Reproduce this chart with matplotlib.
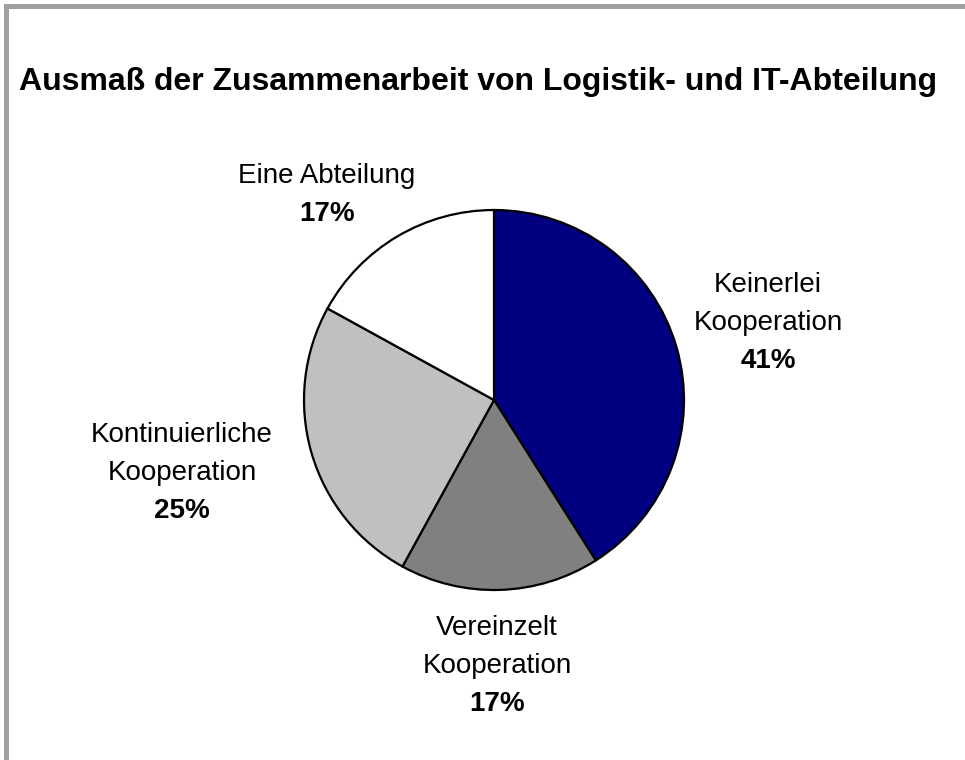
import matplotlib.pyplot as plt
from matplotlib.patches import Rectangle

# data
categories = ["Keinerlei\nKooperation", "Vereinzelt\nKooperation",
              "Kontinuierliche\nKooperation", "Eine Abteilung"]
values = [41, 17, 25, 17]
colors = ["#000080", "#808080", "#c0c0c0", "#ffffff"]
title = "Ausmaß der Zusammenarbeit von Logistik- und IT-Abteilung"

# layout (pixel coords, y from top)
W, H = 965, 760
cx, cy, r = 494, 400, 190
label_pos = [(768, 285), (497, 628), (182, 435), (327, 176)]
line_step = 38

plt.rcParams['font.family'] = ['Liberation Sans', 'DejaVu Sans']

fig = plt.figure(figsize=(W / 100, H / 100), dpi=100)
ax = fig.add_axes([0, 0, 1, 1])
ax.set_xlim(0, W)
ax.set_ylim(0, H)
ax.set_aspect('equal')
ax.axis('off')

ax.pie(values, colors=colors, startangle=90, counterclock=False,
       center=(cx, H - cy), radius=r,
       wedgeprops=dict(edgecolor='black', linewidth=1.6))
ax.set_xlim(0, W)
ax.set_ylim(0, H)

for name, v, (x, y) in zip(categories, values, label_pos):
  lines = name.split("\n") + [f"{v}%"]
  for i, line in enumerate(lines):
    bold = i == len(lines) - 1
    ax.text(x, H - (y + i * line_step), line, ha='center', va='center',
            fontsize=20, fontweight='bold' if bold else 'normal')

ax.text(19, H - 82, title, ha='left', va='center', fontsize=23,
        fontweight='bold')

# grey frame (top and left edge visible)
ax.add_patch(Rectangle((5.5, -20), W + 40, H - 5.5 + 20, fill=False,
                       edgecolor='#a0a0a0', linewidth=3.6, clip_on=False))

fig.savefig("out.png", dpi=100)
